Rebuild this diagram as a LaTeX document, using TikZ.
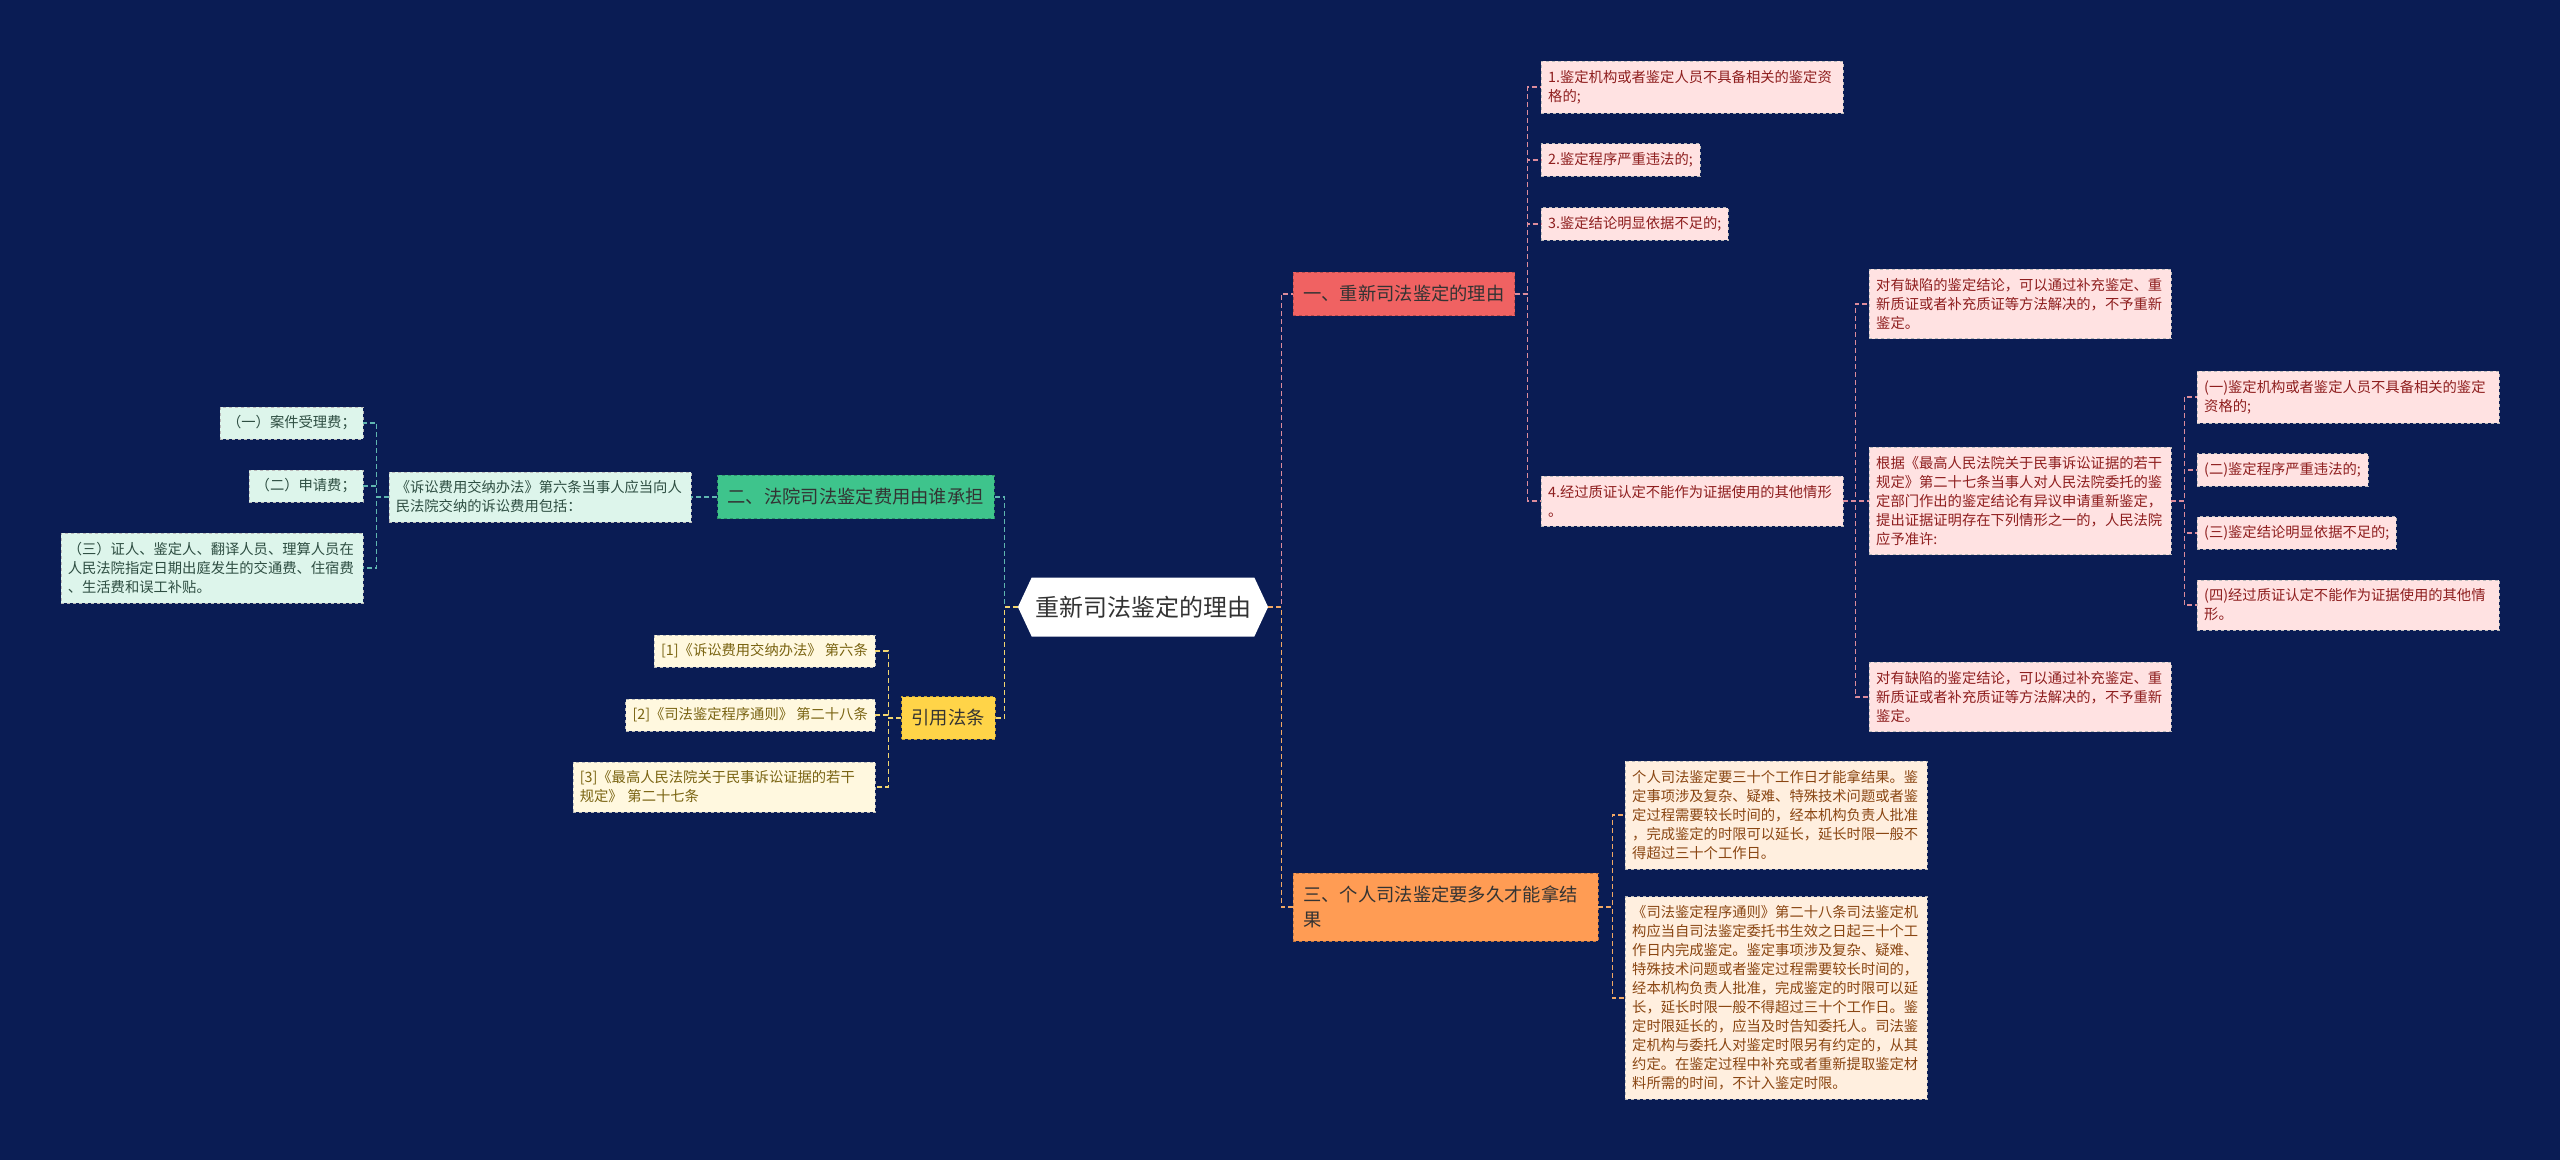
\documentclass[tikz,border=0pt]{standalone}
\usepackage{fontspec}
\setmainfont{Noto Sans CJK SC}
\usetikzlibrary{shapes.symbols,positioning}

\definecolor{bg}{HTML}{0A1C54}
\definecolor{redb}{HTML}{F06262}
\definecolor{redl}{HTML}{FFE2E2}
\definecolor{redt}{HTML}{8E1E1E}
\definecolor{redc}{HTML}{DC8C9C}
\definecolor{orab}{HTML}{FF9C54}
\definecolor{oral}{HTML}{FFEFDF}
\definecolor{orat}{HTML}{8A4612}
\definecolor{orac}{HTML}{F2A864}
\definecolor{grnb}{HTML}{3EC48C}
\definecolor{grnl}{HTML}{DDF5EB}
\definecolor{grnt}{HTML}{2E4E42}
\definecolor{grnc}{HTML}{5FB6B0}
\definecolor{yelb}{HTML}{FFD448}
\definecolor{yell}{HTML}{FFF8DF}
\definecolor{yelt}{HTML}{7A6412}
\definecolor{yelc}{HTML}{F2D670}

\newcommand\leaffont{\fontsize{14.3}{19}\selectfont}
\newcommand\brfont{\fontsize{18.3}{25}\selectfont}

\begin{document}
\begin{tikzpicture}[
  x=1pt,y=-1pt,
  every node/.style={align=left},
  root/.style={signal,signal to=east and west,signal pointer angle=130,fill=white,
    text=black!80,font=\fontsize{24}{28}\selectfont,minimum width=248pt,minimum height=59pt},
  br/.style={draw=#1!75!black,dashed,fill=#1,text=black!80,font=\brfont,inner xsep=10pt,inner ysep=13pt},
  leaf/.style={draw=gray!55,dashed,font=\leaffont,inner xsep=7pt,inner ysep=9pt},
  wide/.style={text width=288pt},
  rl/.style={leaf,fill=redl,text=redt,anchor=west},
  ol/.style={leaf,fill=oral,text=orat,anchor=west},
  gl/.style={leaf,fill=grnl,text=grnt,anchor=east},
  yl/.style={leaf,fill=yell,text=yelt,anchor=east},
  ln/.style={line width=1.5pt,dash pattern=on 5pt off 3pt},
  rln/.style={ln,draw=redc},
  oln/.style={ln,draw=orac},
  gln/.style={ln,draw=grnc},
  yln/.style={ln,draw=yelc}
]
\fill[bg] (0,0) rectangle (2560,1160);
\useasboundingbox (0,0) rectangle (2560,1160);

\node[root] (root) at (1143,607) {重新司法鉴定的理由};

\node[br=redb,anchor=west] (b1) at (1293,294) {一、重新司法鉴定的理由};
\node[br=orab,anchor=west,text width=285pt] (b3) at (1293,907) {三、个人司法鉴定要多久才能拿结\\果};
\node[br=grnb,anchor=east] (b2) at (994,497) {二、法院司法鉴定费用由谁承担};
\node[br=yelb,anchor=east] (b4) at (995,718) {引用法条};

\node[rl,wide] (r1) at (1541,87) {1.鉴定机构或者鉴定人员不具备相关的鉴定资\\格的;};
\node[rl] (r2) at (1541,160) {2.鉴定程序严重违法的;};
\node[rl] (r3) at (1541,224) {3.鉴定结论明显依据不足的;};
\node[rl,wide] (r4) at (1541,501) {4.经过质证认定不能作为证据使用的其他情形\\。};

\node[rl,wide] (a1) at (1869,304) {对有缺陷的鉴定结论，可以通过补充鉴定、重\\新质证或者补充质证等方法解决的，不予重新\\鉴定。};
\node[rl,wide] (a2) at (1869,501) {根据《最高人民法院关于民事诉讼证据的若干\\规定》第二十七条当事人对人民法院委托的鉴\\定部门作出的鉴定结论有异议申请重新鉴定，\\提出证据证明存在下列情形之一的，人民法院\\应予准许:};
\node[rl,wide] (a3) at (1869,697) {对有缺陷的鉴定结论，可以通过补充鉴定、重\\新质证或者补充质证等方法解决的，不予重新\\鉴定。};

\node[rl,wide] (q1) at (2197,397) {(一)鉴定机构或者鉴定人员不具备相关的鉴定\\资格的;};
\node[rl] (q2) at (2197,470) {(二)鉴定程序严重违法的;};
\node[rl] (q3) at (2197,533) {(三)鉴定结论明显依据不足的;};
\node[rl,wide] (q4) at (2197,605) {(四)经过质证认定不能作为证据使用的其他情\\形。};

\node[ol,wide] (o1) at (1625,815) {个人司法鉴定要三十个工作日才能拿结果。鉴\\定事项涉及复杂、疑难、特殊技术问题或者鉴\\定过程需要较长时间的，经本机构负责人批准\\，完成鉴定的时限可以延长，延长时限一般不\\得超过三十个工作日。};
\node[ol,wide] (o2) at (1625,998) {《司法鉴定程序通则》第二十八条司法鉴定机\\构应当自司法鉴定委托书生效之日起三十个工\\作日内完成鉴定。鉴定事项涉及复杂、疑难、\\特殊技术问题或者鉴定过程需要较长时间的，\\经本机构负责人批准，完成鉴定的时限可以延\\长，延长时限一般不得超过三十个工作日。鉴\\定时限延长的，应当及时告知委托人。司法鉴\\定机构与委托人对鉴定时限另有约定的，从其\\约定。在鉴定过程中补充或者重新提取鉴定材\\料所需的时间，不计入鉴定时限。};

\node[gl,wide] (g0) at (691,497) {《诉讼费用交纳办法》第六条当事人应当向人\\民法院交纳的诉讼费用包括：};
\node[gl] (g1) at (363,423) {（一）案件受理费；};
\node[gl] (g2) at (363,486) {（二）申请费；};
\node[gl,wide] (g3) at (363,568) {（三）证人、鉴定人、翻译人员、理算人员在\\人民法院指定日期出庭发生的交通费、住宿费\\、生活费和误工补贴。};

\node[yl] (y1) at (875,651) {[1]《诉讼费用交纳办法》 第六条};
\node[yl] (y2) at (875,715) {[2]《司法鉴定程序通则》 第二十八条};
\node[yl,wide] (y3) at (875,787) {[3]《最高人民法院关于民事诉讼证据的若干\\规定》 第二十七条};

\draw[rln] (root.east) -- ++(13,0) |- (b1.west);
\draw[oln] (root.east) -- ++(13,0) |- (b3.west);
\draw[gln] (root.west) -- ++(-13,0) |- (b2.east);
\draw[yln] (root.west) -- ++(-13,0) |- (b4.east);
\foreach \n in {r1,r2,r3,r4} \draw[rln] (b1.east) -- ++(13,0) |- (\n.west);
\foreach \n in {a1,a2,a3} \draw[rln] (r4.east) -- ++(12,0) |- (\n.west);
\foreach \n in {q1,q2,q3,q4} \draw[rln] (a2.east) -- ++(13,0) |- (\n.west);
\foreach \n in {o1,o2} \draw[oln] (b3.east) -- ++(14,0) |- (\n.west);
\draw[gln] (b2.west) -- (g0.east);
\foreach \n in {g1,g2,g3} \draw[gln] (g0.west) -- ++(-12,0) |- (\n.east);
\foreach \n in {y1,y2,y3} \draw[yln] (b4.west) -- ++(-13,0) |- (\n.east);
\end{tikzpicture}
\end{document}
